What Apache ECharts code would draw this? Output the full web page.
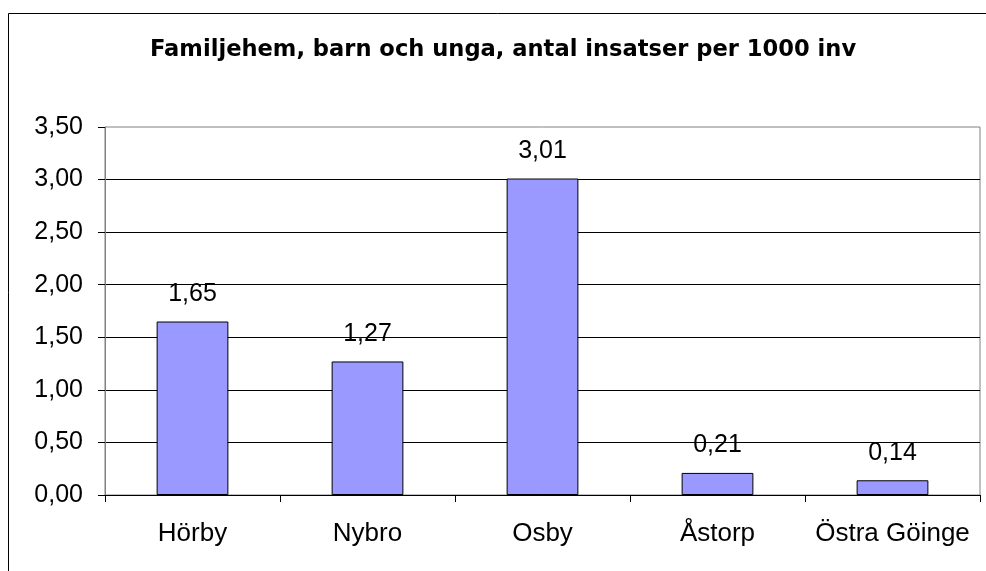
<!DOCTYPE html>
<html>
<head>
<meta charset="utf-8">
<script src="https://cdn.jsdelivr.net/npm/echarts@6/dist/echarts.min.js"></script>
<style>
  html, body { margin: 0; padding: 0; background: #fff; }
  #mainChart { width: 986px; height: 571px; }
</style>
</head>
<body>
<div id="mainChart"></div>
<script>
  var titleText = 'Familjehem, barn och unga, antal insatser per 1000 inv';
  var kommuner = ['Hörby', 'Nybro', 'Osby', 'Åstorp', 'Östra Göinge'];
  var insatser = [1.65, 1.27, 3.01, 0.21, 0.14];
  var yMin = 0, yMax = 3.5, yStep = 0.5;

  function komma(v) {
    return Number(v).toFixed(2).replace('.', ',');
  }

  var options = {
    animation: false,
    backgroundColor: '#fff',
    title: {
      text: titleText,
      left: 145,
      top: 34,
      textStyle: {
        fontFamily: 'DejaVu Sans',
        fontWeight: 'bold',
        fontSize: 22.6,
        color: '#000'
      }
    },
    graphic: [{
      type: 'rect',
      shape: { x: 8.5, y: 13.5, width: 1000, height: 600 },
      style: { fill: 'none', stroke: '#000', lineWidth: 1 },
      silent: true
    }],
    grid: {
      left: 105,
      right: 6,
      top: 127,
      bottom: 76,
      show: true,
      borderColor: '#808080',
      borderWidth: 1
    },
    xAxis: {
      type: 'category',
      data: kommuner,
      axisLine: { lineStyle: { color: '#000', width: 1 } },
      axisTick: { show: true, length: 7, lineStyle: { color: '#000' } },
      axisLabel: {
        interval: 0,
        margin: 26,
        color: '#000',
        fontFamily: 'Liberation Sans',
        fontSize: 26
      }
    },
    yAxis: {
      type: 'value',
      min: yMin,
      max: yMax,
      interval: yStep,
      axisLine: { show: true, lineStyle: { color: '#808080', width: 1 } },
      axisTick: { show: true, length: 7, lineStyle: { color: '#000' } },
      axisLabel: {
        margin: 22,
        color: '#000',
        fontFamily: 'Liberation Sans',
        fontSize: 25,
        formatter: komma
      },
      splitLine: {
        show: true,
        showMaxLine: false,
        lineStyle: { color: '#000', width: 1 }
      }
    },
    series: [{
      name: 'Insatser',
      type: 'bar',
      data: insatser,
      barWidth: '41%',
      itemStyle: { color: '#9999ff', borderColor: '#000', borderWidth: 1 },
      label: {
        show: true,
        position: 'top',
        distance: 15,
        color: '#000',
        fontFamily: 'Liberation Sans',
        fontSize: 25,
        formatter: function (p) { return komma(p.value); }
      }
    }]
  };

  var mainChart = echarts.init(document.getElementById('mainChart'), null, { renderer: 'canvas' });
  mainChart.setOption(options);
</script>
</body>
</html>
